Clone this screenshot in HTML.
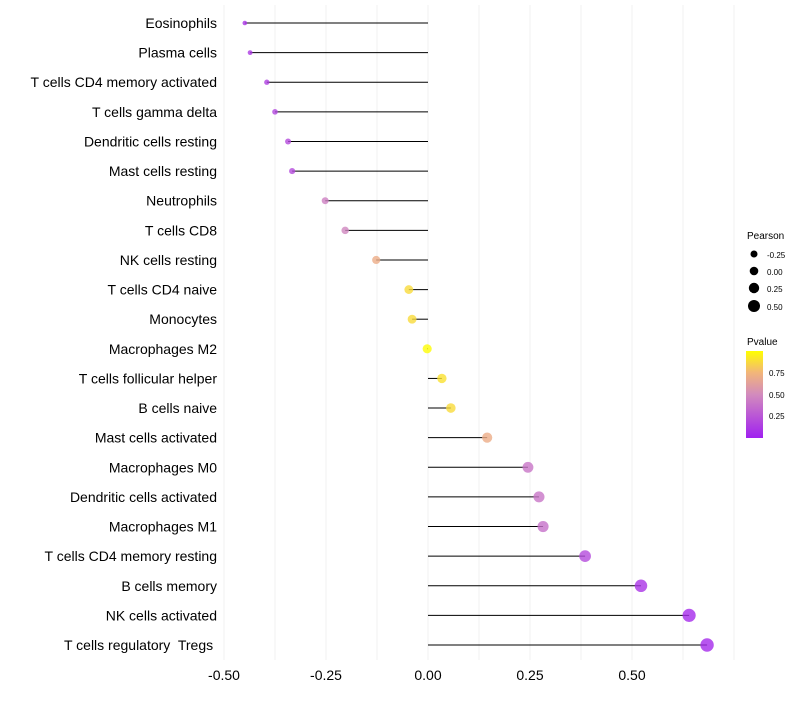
<!DOCTYPE html>
<html><head><meta charset="utf-8"><style>
body{margin:0;background:#fff}
svg{font-family:"Liberation Sans",sans-serif}
text{white-space:pre}
</style></head><body>
<svg id="chart" width="800" height="700">
<defs>
<linearGradient id="pgrad" x1="0" y1="1" x2="0" y2="0">
<stop offset="0" stop-color="#a020f0"/><stop offset="0.5" stop-color="#d28bbd"/>
<stop offset="0.75" stop-color="#f2b57a"/><stop offset="1" stop-color="#ffff00"/>
</linearGradient>
</defs>
<g id="grid"></g><g id="marks"></g><g id="ylabels"></g><g id="xlabels"></g>
<g>
<text x="747" y="239" font-size="10">Pearson</text>
<circle cx="754" cy="254" r="3.5" fill="#000"/><text x="767" y="258" font-size="8">-0.25</text>
<circle cx="754" cy="271" r="4.3" fill="#000"/><text x="767" y="275" font-size="8">0.00</text>
<circle cx="754" cy="288" r="5.2" fill="#000"/><text x="767" y="292" font-size="8">0.25</text>
<circle cx="754" cy="306" r="6" fill="#000"/><text x="767" y="310" font-size="8">0.50</text>
</g>
<g>
<text x="747" y="345" font-size="10">Pvalue</text>
<rect x="746" y="351" width="17" height="87" fill="url(#pgrad)"/>
<text x="769" y="376" font-size="8">0.75</text>
<text x="769" y="398" font-size="8">0.50</text>
<text x="769" y="419" font-size="8">0.25</text>
</g>
</svg>
<script>
const categories=["Eosinophils","Plasma cells","T cells CD4 memory activated","T cells gamma delta","Dendritic cells resting","Mast cells resting","Neutrophils","T cells CD8","NK cells resting","T cells CD4 naive","Monocytes","Macrophages M2","T cells follicular helper","B cells naive","Mast cells activated","Macrophages M0","Dendritic cells activated","Macrophages M1","T cells CD4 memory resting","B cells memory","NK cells activated","T cells regulatory  Tregs "];
const pearson=[-0.449,-0.436,-0.395,-0.375,-0.343,-0.333,-0.252,-0.203,-0.127,-0.047,-0.039,-0.002,0.034,0.056,0.145,0.245,0.272,0.282,0.385,0.522,0.640,0.684];
const pvalue=[0.1,0.12,0.15,0.18,0.2,0.2,0.45,0.48,0.7,0.88,0.88,0.99,0.9,0.88,0.7,0.4,0.4,0.38,0.2,0.1,0.05,0.05];
const xTicks=[-0.5,-0.25,0,0.25,0.5];
const xTickLabels=["-0.50","-0.25","0.00","0.25","0.50"];
const NS="http://www.w3.org/2000/svg";
const x=v=>428+v*408;
const y=i=>23+i*(622/(categories.length-1));
const rad=v=>Math.sqrt(Math.max(4,21+34.9*v));
const stops=[[0,[160,32,240]],[0.5,[210,139,189]],[0.75,[242,181,122]],[1,[255,255,0]]];
function col(p){for(let k=1;k<stops.length;k++){if(p<=stops[k][0]){const a=stops[k-1],b=stops[k],t=(p-a[0])/(b[0]-a[0]);return "rgb("+a[1].map((c,j)=>Math.round(c+(b[1][j]-c)*t)).join(",")+")";}}return "rgb(255,255,0)";}
function mk(tag,attrs,parent){const e=document.createElementNS(NS,tag);for(const k in attrs)e.setAttribute(k,attrs[k]);document.getElementById(parent).appendChild(e);return e;}
for(let v=-0.5;v<=0.75;v+=0.125){
 const g=mk("line",{x1:x(v),x2:x(v),y1:5,y2:660,stroke:"#f2f2f2","stroke-width":1},"grid");
 
 
}
xTicks.forEach((v,i)=>{
 const t=mk("text",{x:x(v),y:680,"font-size":14,"text-anchor":"middle",fill:"#000"},"xlabels");
 t.textContent=xTickLabels[i];
 
 
});
categories.forEach((c,i)=>{
 const t=mk("text",{x:217,y:y(i)+5,"font-size":14,"text-anchor":"end",fill:"#000"},"ylabels");
 t.textContent=c;
 
 
 const l=mk("line",{x1:x(0),x2:x(pearson[i]),y1:y(i),y2:y(i),stroke:"#000","stroke-width":1},"marks");
 
 
 const p=mk("circle",{cx:x(pearson[i]),cy:y(i),r:rad(pearson[i]),fill:col(pvalue[i]),"fill-opacity":0.8},"marks");
 
 
});
</script>
</body></html>
